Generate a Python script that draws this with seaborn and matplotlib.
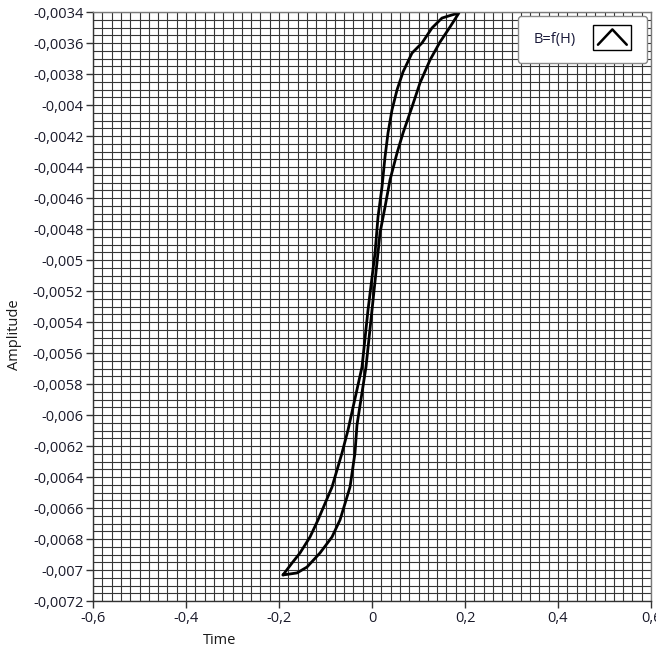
import numpy as np
import pandas as pd
import matplotlib
matplotlib.use("Agg")
import matplotlib.pyplot as plt
import seaborn as sns
from matplotlib.ticker import FixedLocator, MultipleLocator, FuncFormatter
from matplotlib.legend_handler import HandlerBase
from matplotlib.patches import Rectangle
from matplotlib.lines import Line2D

# Hysteresis loop B=f(H) : lower/right branch (up), then upper/left branch (down)
h_values = [-0.1914, -0.1613, -0.1398, -0.1118, -0.0860, -0.0688, -0.0473, -0.0366,
            -0.0323, -0.0129, 0.0000, 0.0129, 0.0172, 0.0280, 0.0387, 0.0538,
            0.0667, 0.0860, 0.1032, 0.1247, 0.1462, 0.1677, 0.1870,
            0.1720, 0.1505, 0.1290, 0.1075, 0.0860, 0.0667, 0.0538, 0.0430,
            0.0344, 0.0280, 0.0215, 0.0129, 0.0065, -0.0086, -0.0215, -0.0516,
            -0.0645, -0.0860, -0.1161, -0.1333, -0.1548, -0.1720, -0.1914]
b_values = [-0.007032, -0.007019, -0.006981, -0.006890, -0.006787, -0.006677, -0.006465, -0.006245,
            -0.006065, -0.005690, -0.005323, -0.004955, -0.004826, -0.004658, -0.004484, -0.004310,
            -0.004181, -0.004013, -0.003858, -0.003710, -0.003594, -0.003497, -0.003406,
            -0.003419, -0.003439, -0.003503, -0.003600, -0.003665, -0.003787, -0.003903, -0.004032,
            -0.004181, -0.004335, -0.004529, -0.004723, -0.004955, -0.005323, -0.005690, -0.006097,
            -0.006245, -0.006465, -0.006677, -0.006787, -0.006890, -0.006955, -0.007032]

x_ticks = [-0.6, -0.4, -0.2, 0.0, 0.2, 0.4, 0.6]
y_ticks = [-0.0072, -0.0070, -0.0068, -0.0066, -0.0064, -0.0062, -0.0060, -0.0058,
           -0.0056, -0.0054, -0.0052, -0.0050, -0.0048, -0.0046, -0.0044, -0.0042,
           -0.0040, -0.0038, -0.0036, -0.0034]
series_label = "B=f(H)"
x_label = "Time"
y_label = "Amplitude"

df = pd.DataFrame({"H": h_values, "B": b_values})

sns.set_style("white")
plt.rcParams['font.family'] = ['Open Sans', 'DejaVu Sans']

fig = plt.figure(figsize=(6.56, 6.55), dpi=100)
ax = fig.add_axes([93/656, 1 - 601/655, 558/656, 589/655])

grid_color = "#363636"
sns.lineplot(data=df, x="H", y="B", sort=False, estimator=None, color="black",
             linewidth=2.0, ax=ax, label=series_label)

ax.set_xlim(-0.6, 0.6)
ax.set_ylim(-0.0072, -0.0034)

ax.xaxis.set_major_locator(FixedLocator(x_ticks))
ax.yaxis.set_major_locator(FixedLocator(y_ticks))
ax.xaxis.set_minor_locator(MultipleLocator(0.02))
ax.yaxis.set_minor_locator(MultipleLocator(0.00005))

def fmt(v, pos):
    s = "%g" % round(v, 6)
    if s == "-0":
        s = "0"
    return s.replace(".", ",")

ax.xaxis.set_major_formatter(FuncFormatter(fmt))
ax.yaxis.set_major_formatter(FuncFormatter(fmt))

ax.grid(which="both", color=grid_color, linewidth=0.8)
ax.set_axisbelow(True)
ax.tick_params(which="major", direction="out", length=5, width=1, color="#333333",
               labelsize=10.5, labelcolor="#1a1a2a", pad=2, left=True, bottom=True)
ax.tick_params(which="minor", length=0)

for s in ax.spines.values():
    s.set_color("#7a7a7a")
    s.set_linewidth(1)
ax.spines["left"].set_color("#333333")
ax.spines["bottom"].set_color("#333333")

ax.set_xlabel(x_label, fontsize=10.5, color="#1a1a1a")
ax.set_ylabel(y_label, fontsize=10.5, color="#1a1a1a")
ax.xaxis.set_label_coords((220 - 93) / 558, -0.054)
ax.yaxis.set_label_coords(-0.128, (601 - 335) / 589)


class BoxHandler(HandlerBase):
    def create_artists(self, legend, orig_handle, xdescent, ydescent, width, height,
                       fontsize, trans):
        x0 = -xdescent
        y0 = -ydescent
        rect = Rectangle((x0, y0 - 0.75 * height), width, height * 2.5,
                         facecolor="white", edgecolor="black", linewidth=1.0,
                         transform=trans)
        line = Line2D([x0 + 0.12 * width, x0 + 0.5 * width, x0 + 0.88 * width],
                      [y0 - 0.2 * height, y0 + 1.3 * height, y0 - 0.2 * height],
                      color="black", linewidth=1.8, transform=trans)
        return [rect, line]


handles, labels = ax.get_legend_handles_labels()
leg = ax.legend(handles, labels, loc="upper right", markerfirst=False,
                handler_map={handles[0]: BoxHandler()}, handlelength=2.6,
                handletextpad=1.2, borderpad=1.1, borderaxespad=0.25,
                fontsize=10.5, frameon=True, fancybox=True, framealpha=1,
                edgecolor="#8a8a8a", facecolor="white")
leg.get_frame().set_linewidth(1.0)
for t in leg.get_texts():
    t.set_color("#1a1a3a")

fig.savefig("out.png", dpi=100, facecolor="white")
